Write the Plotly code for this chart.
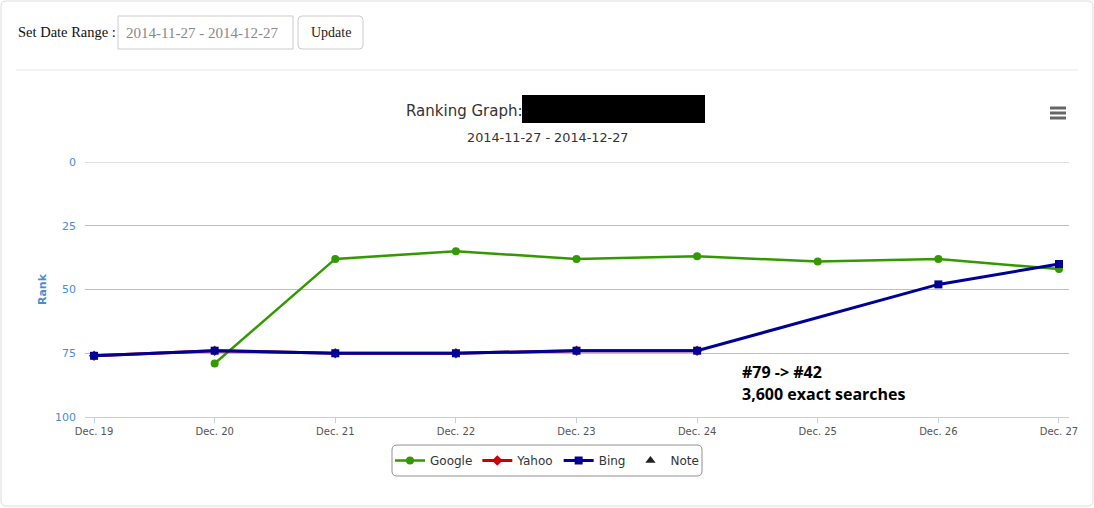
import plotly.graph_objects as go

# --- Data ---
dates = ["Dec. 19", "Dec. 20", "Dec. 21", "Dec. 22", "Dec. 23",
         "Dec. 24", "Dec. 25", "Dec. 26", "Dec. 27"]
google_rank = [None, 79, 38, 35, 38, 37, 39, 38, 42]
yahoo_rank = [76, 74, 75, 75, 74, 74, None, None, None]
bing_rank = [76, 74, 75, 75, 74, 74, None, 48, 40]
rank_ticks = [0, 25, 50, 75, 100]
date_range = "2014-11-27 - 2014-12-27"
note_lines = ["#79 -> #42", "3,600 exact searches"]

# --- Page geometry (pixels) ---
W, H = 1094, 508
PL, PR, PT, PB = 85, 1069, 162, 417


def px(x):
    return (x - PL) / (PR - PL)


def py(y):
    return (PB - y) / (PB - PT)


def rounded_rect(x0, y0, x1, y1, r):
    pts = [
        f"M{px(x0 + r)},{py(y0)}", f"L{px(x1 - r)},{py(y0)}",
        f"Q{px(x1)},{py(y0)} {px(x1)},{py(y0 + r)}", f"L{px(x1)},{py(y1 - r)}",
        f"Q{px(x1)},{py(y1)} {px(x1 - r)},{py(y1)}", f"L{px(x0 + r)},{py(y1)}",
        f"Q{px(x0)},{py(y1)} {px(x0)},{py(y1 - r)}", f"L{px(x0)},{py(y0 + r)}",
        f"Q{px(x0)},{py(y0)} {px(x0 + r)},{py(y0)}", "Z",
    ]
    return " ".join(pts)


CHART_FONT = "DejaVu Sans"
SERIF = "Liberation Serif"

fig = go.Figure()

fig.add_trace(go.Scatter(
    x=dates, y=google_rank, name="Google", mode="lines+markers",
    line=dict(color="#339900", width=2.5),
    marker=dict(symbol="circle", size=8, color="#339900"),
))
fig.add_trace(go.Scatter(
    x=dates, y=yahoo_rank, name="Yahoo", mode="lines+markers",
    line=dict(color="#CC0000", width=3),
    marker=dict(symbol="diamond", size=8, color="#CC0000"),
))
fig.add_trace(go.Scatter(
    x=dates, y=bing_rank, name="Bing", mode="lines+markers", connectgaps=True,
    line=dict(color="#000099", width=3),
    marker=dict(symbol="square", size=8, color="#000099"),
))
fig.add_trace(go.Scatter(
    x=[None], y=[None], name="Note", mode="markers",
    marker=dict(symbol="triangle-up", size=9, color="#222222"),
))

shapes = [
    # page border and separator
    dict(type="path", path=rounded_rect(1, 1, 1093, 506, 5),
         line=dict(color="#dddddd", width=1)),
    dict(type="line", x0=px(16), x1=px(1078), y0=py(70), y1=py(70),
         line=dict(color="#e8e8e8", width=1)),
    # date input and button
    dict(type="rect", x0=px(118), x1=px(293), y0=py(16), y1=py(49),
         line=dict(color="#cccccc", width=1)),
    dict(type="path", path=rounded_rect(298, 16, 363, 49, 4),
         line=dict(color="#cccccc", width=1)),
    # redacted part of the title
    dict(type="rect", x0=px(522), x1=px(705), y0=py(95), y1=py(123),
         fillcolor="black", line=dict(width=0)),
    # legend box
    dict(type="path", path=rounded_rect(392, 445, 702, 476, 5),
         line=dict(color="#909090", width=1)),
]
for yy in (108, 113, 118):
    shapes.append(dict(type="line", x0=px(1050), x1=px(1066), y0=py(yy), y1=py(yy),
                       line=dict(color="#666666", width=3)))
for s in shapes:
    s.update(xref="paper", yref="paper")

# top gridline (plotly drops grid lines sitting on the plot edge)
shapes.append(dict(type="line", xref="paper", yref="y", x0=0, x1=1,
                   y0=rank_ticks[0], y1=rank_ticks[0], layer="below",
                   line=dict(color="#C0C0C0", width=1)))

annotations = [
    dict(text="Set Date Range :", x=px(16), y=py(32), xanchor="left",
         font=dict(family=SERIF, size=14.5, color="#111111")),
    dict(text=date_range, x=px(124), y=py(33), xanchor="left",
         font=dict(family=SERIF, size=15, color="#888888")),
    dict(text="Update", x=px(330.5), y=py(32), xanchor="center",
         font=dict(family=SERIF, size=14, color="#222222")),
    dict(text="Ranking Graph:", x=px(404), y=py(111), xanchor="left",
         font=dict(family=CHART_FONT, size=15, color="#333333")),
    dict(text=date_range, x=px(548), y=py(138), xanchor="center",
         font=dict(family=CHART_FONT, size=12.8, color="#333333")),
    dict(text=f"<b>{note_lines[0]}</b>", x=px(740), y=py(372), xanchor="left",
         font=dict(family="Open Sans", size=16, color="black")),
    dict(text=f"<b>{note_lines[1]}</b>", x=px(740), y=py(394), xanchor="left",
         font=dict(family="Open Sans", size=16, color="black")),
]
for a in annotations:
    a.update(xref="paper", yref="paper", showarrow=False, yanchor="middle")

fig.update_layout(
    width=W, height=H,
    margin=dict(l=PL, r=W - PR, t=PT, b=H - PB, autoexpand=False),
    paper_bgcolor="white", plot_bgcolor="white",
    font=dict(family=CHART_FONT, color="#333333"),
    shapes=shapes, annotations=annotations,
    showlegend=True,
    legend=dict(orientation="h", x=px(547), xanchor="center",
                y=py(460.5), yanchor="middle", itemwidth=30,
                font=dict(family=CHART_FONT, size=12, color="#333333"),
                bgcolor="rgba(0,0,0,0)", borderwidth=0),
    hovermode=False,
)

fig.update_xaxes(
    type="category", range=[-0.075, 8.083],
    showgrid=False, zeroline=False,
    showline=True, linecolor="#C0D0E0", linewidth=1,
    ticks="outside", ticklen=5, tickcolor="#C0D0E0",
    tickfont=dict(family=CHART_FONT, size=10, color="#555555"),
)
fig.update_yaxes(
    range=[100, 0], tickvals=rank_ticks,
    showgrid=True, gridcolor="#C0C0C0", gridwidth=1,
    zeroline=False, showline=False, ticks="",
    ticklabelstandoff=8,
    tickfont=dict(family=CHART_FONT, size=11, color="#4a8bd6"),
    title=dict(text="<b>Rank</b>", standoff=6,
               font=dict(family=CHART_FONT, size=11, color="#4a8bd6")),
)

fig.write_html("out.html", config={"displayModeBar": False},
               post_script="document.body.style.margin = '0';")
